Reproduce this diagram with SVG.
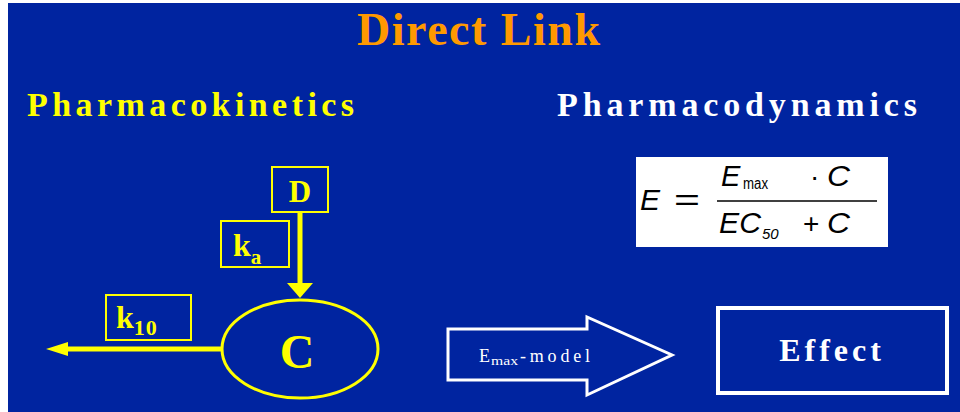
<svg xmlns="http://www.w3.org/2000/svg" width="960" height="412" viewBox="0 0 960 412">
<defs>
<style>
.ser{font-family:"Liberation Serif","Times New Roman",serif;font-weight:bold}
.ari{font-family:"Liberation Sans",Arial,sans-serif;fill:#000}
.yb{fill:none;stroke:#FFFF00;stroke-width:2}
.yl{stroke:#FFFF00;stroke-width:5;fill:none}
.wt{fill:none;stroke:#FFFFFF;stroke-width:3}
</style>
</defs>
<rect x="0" y="0" width="960" height="412" fill="#FFFFFF"/>
<rect x="8" y="3" width="952" height="409" fill="#0024A0"/>
<text class="ser" x="357" y="45" font-size="46" fill="#FF9900" textLength="243" lengthAdjust="spacing">Direct Link</text>
<text class="ser" x="27" y="116" font-size="34" fill="#FFFF00" textLength="327" lengthAdjust="spacing">Pharmacokinetics</text>
<text class="ser" x="557" y="116" font-size="34" fill="#FFFFFF" textLength="360" lengthAdjust="spacing">Pharmacodynamics</text>

<g id="connectors">
<line class="yl" x1="300" y1="212" x2="300" y2="284"/>
<polygon points="287,283 313,283 300,298" fill="#FFFF00"/>
<line class="yl" x1="222" y1="349" x2="66" y2="349"/>
<polygon points="68,342 68,356 46,349" fill="#FFFF00"/>
</g>

<g id="node-D">
<rect class="yb" x="272" y="167" width="56" height="45"/>
<text class="ser" x="300" y="202" font-size="31" fill="#FFFF00" text-anchor="middle">D</text>
</g>
<g id="label-ka">
<rect class="yb" x="221" y="221" width="68" height="46"/>
<text class="ser" x="233" y="256" font-size="32" fill="#FFFF00">k<tspan font-size="21" dy="8">a</tspan></text>
</g>
<g id="label-k10">
<rect class="yb" x="106" y="295" width="85" height="45"/>
<text class="ser" x="116" y="328" font-size="32" fill="#FFFF00">k<tspan font-size="22" dy="7" letter-spacing="1">10</tspan></text>
</g>
<g id="node-C">
<ellipse cx="300" cy="349" rx="78" ry="49" fill="none" stroke="#FFFF00" stroke-width="3"/>
<text class="ser" x="297" y="368" font-size="48" fill="#FFFF00" text-anchor="middle">C</text>
</g>

<g id="formula">
<rect x="636" y="157" width="252" height="90" fill="#FFFFFF"/>
<text class="ari" x="640" y="210" font-size="30" font-style="italic">E</text>
<text class="ari" x="674" y="210" font-size="30" textLength="26" lengthAdjust="spacingAndGlyphs">=</text>
<line x1="717" y1="201" x2="877" y2="201" stroke="#000" stroke-width="1.6"/>
<text class="ari" x="721" y="186" font-size="29" font-style="italic">E</text>
<text class="ari" x="743" y="189" font-size="16" textLength="25" lengthAdjust="spacingAndGlyphs">max</text>
<text class="ari" x="810" y="186" font-size="28">·</text>
<text class="ari" x="827" y="186" font-size="29" font-style="italic" textLength="23" lengthAdjust="spacingAndGlyphs">C</text>
<text class="ari" x="719" y="233" font-size="29" font-style="italic" textLength="42" lengthAdjust="spacingAndGlyphs">EC</text>
<text class="ari" x="762" y="239" font-size="15" font-style="italic">50</text>
<text class="ari" x="803" y="233" font-size="28">+</text>
<text class="ari" x="827" y="233" font-size="29" font-style="italic" textLength="23" lengthAdjust="spacingAndGlyphs">C</text>
</g>

<g id="emax-arrow">
<polygon class="wt" points="448,329 587,329 587,317 672,355 587,395 587,380 448,380"/>
<text x="479" y="362" font-family="'Liberation Serif','Times New Roman',serif" font-size="18" fill="#FFFFFF">E</text>
<text x="491" y="365" font-family="'Liberation Serif','Times New Roman',serif" font-size="13" fill="#FFFFFF" textLength="27" lengthAdjust="spacingAndGlyphs">max</text>
<text x="520" y="362" font-family="'Liberation Serif','Times New Roman',serif" font-size="18" fill="#FFFFFF" textLength="70" lengthAdjust="spacing">-model</text>
</g>

<g id="node-effect">
<rect x="718" y="308" width="229" height="85" fill="none" stroke="#FFFFFF" stroke-width="4"/>
<text class="ser" x="832" y="361" font-size="32" fill="#FFFFFF" text-anchor="middle" letter-spacing="4">Effect</text>
</g>
</svg>
